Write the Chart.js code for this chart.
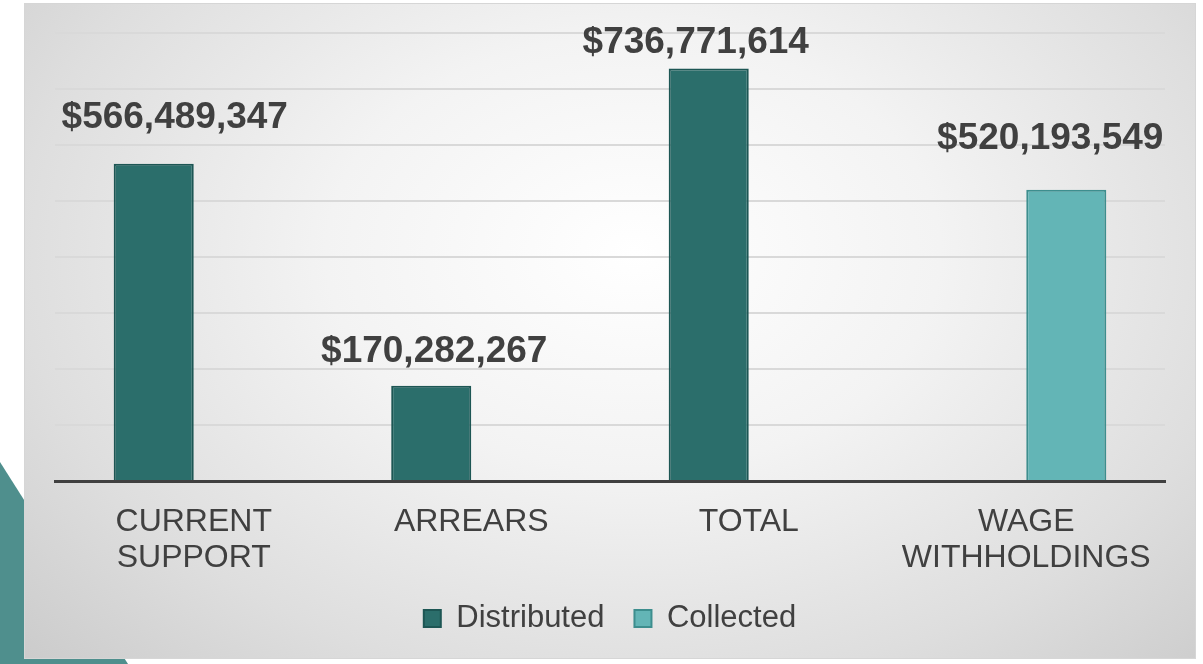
<!DOCTYPE html>
<html>
<head>
<meta charset="utf-8">
<script src="https://cdn.jsdelivr.net/npm/chart.js@4/dist/chart.umd.min.js"></script>
<style>
  html, body { margin:0; padding:0; background:#ffffff; width:1203px; height:664px; overflow:hidden; }
  #deco { position:absolute; left:0; top:0; width:1203px; height:664px;
          background:#4f8f8d; clip-path: polygon(0 462px, 128px 664px, 0 664px); }
  #panel { position:absolute; left:24px; top:3px; width:1170px; height:654px;
           border:1px solid #d6d6d6;
           background: radial-gradient(ellipse 75% 95% at 52% 38%, #ffffff 0%, #f3f3f3 35%, #dedede 70%, #c8c8c8 100%); }
  #wrap { position:absolute; left:0; top:0; width:1170px; height:654px; }
</style>
</head>
<body>
<div id="deco"></div>
<div id="panel"><div id="wrap"><canvas id="c"></canvas></div></div>
<script>
const categories = [["CURRENT", "SUPPORT"], "ARREARS", "TOTAL", ["WAGE", "WITHHOLDINGS"]];
const distributed = [566489347, 170282267, 736771614, null];
const collected = [null, null, null, 520193549];
const yTicksMax = 800000000;
const yTicksStep = 100000000;

// label nudges (style), per category: horizontal shift and baseline gap above bar
const labelDx = [21, 3, -13, -16];
const labelGap = [36, 24, 15, 41];

const fmt = v => '$' + v.toLocaleString('en-US');

const dataLabels = {
  id: 'dataLabels',
  afterDatasetsDraw(chart) {
    const ctx = chart.ctx;
    ctx.save();
    ctx.font = 'bold 37px "Liberation Sans", Arial, sans-serif';
    ctx.fillStyle = '#404040';
    ctx.textAlign = 'center';
    ctx.textBaseline = 'alphabetic';
    chart.data.datasets.forEach((ds, di) => {
      const meta = chart.getDatasetMeta(di);
      meta.data.forEach((bar, i) => {
        const v = ds.data[i];
        if (v === null || v === undefined) return;
        ctx.fillText(fmt(v), bar.x + labelDx[i], bar.y - labelGap[i]);
      });
    });
    ctx.restore();
  }
};

new Chart(document.getElementById('c'), {
  type: 'bar',
  data: {
    labels: categories,
    datasets: [
      { label: 'Distributed', data: distributed, backgroundColor: '#2b6e6b', borderColor: '#1d5654', borderWidth: 2, borderSkipped: 'bottom' },
      { label: 'Collected', data: collected, backgroundColor: '#63b5b6', borderColor: '#3d8e8e', borderWidth: 2, borderSkipped: 'bottom' }
    ]
  },
  options: {
    responsive: true,
    maintainAspectRatio: false,
    animation: false,
    datasets: { bar: { barPercentage: 1.0, categoryPercentage: 0.577 } },
    layout: { padding: { left: 30, right: 30, top: 29, bottom: 14 } },
    plugins: {
      tooltip: { enabled: false },
      legend: {
        position: 'bottom',
        maxHeight: 74,
        labels: {
          color: '#404040',
          font: { size: 31, family: '"Liberation Sans", Arial, sans-serif' },
          boxWidth: 17, boxHeight: 17, padding: 30
        }
      }
    },
    scales: {
      x: {
        grid: { display: false, drawTicks: false },
        border: { display: true, color: '#404040', width: 3 },
        ticks: {
          color: '#404040', padding: 24, maxRotation: 0, autoSkip: false,
          font: { size: 32, family: '"Liberation Sans", Arial, sans-serif', lineHeight: 1.1 }
        },
        afterFit(scale) { scale.height = 92; }
      },
      y: {
        min: 0, max: yTicksMax,
        ticks: { display: false, stepSize: yTicksStep },
        grid: { color: '#d9d9d9', lineWidth: 2, drawTicks: false },
        border: { display: false },
        afterFit(scale) { scale.width = 0; }
      }
    }
  },
  plugins: [dataLabels]
});
</script>
</body>
</html>
